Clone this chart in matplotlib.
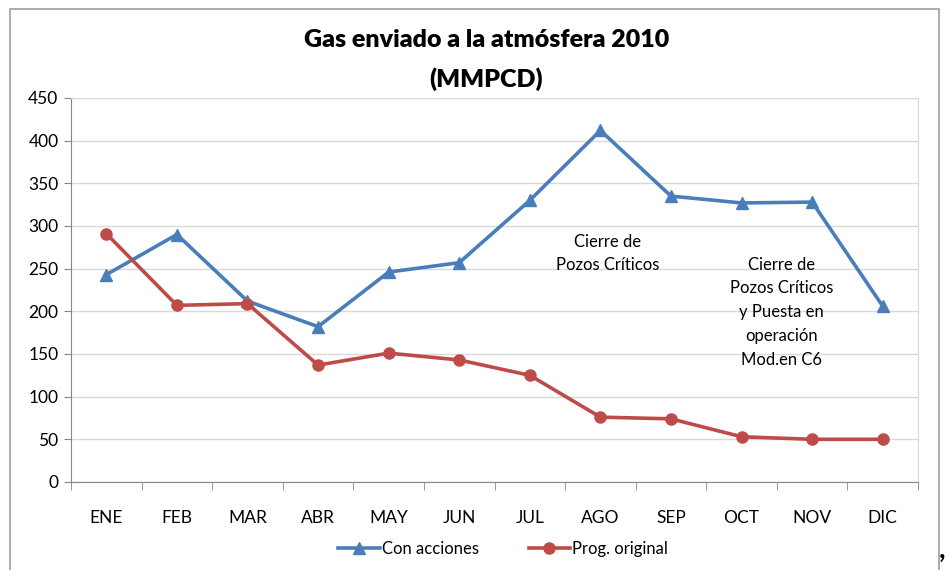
import matplotlib.pyplot as plt
import matplotlib.patches as mpatches

meses = ["ENE", "FEB", "MAR", "ABR", "MAY", "JUN", "JUL", "AGO", "SEP", "OCT", "NOV", "DIC"]
con_acciones = [243, 290, 212, 182, 246, 257, 330, 412, 335, 327, 328, 206]
prog_original = [291, 207, 209, 137, 151, 143, 125, 76, 74, 53, 50, 50]

plt.rcParams['font.family'] = ['Lato', 'DejaVu Sans']

fig = plt.figure(figsize=(9.52, 5.70), dpi=100)
ax = fig.add_axes([0.0746, 0.1544, 0.8897, 0.6737])

x = list(range(len(meses)))
azul = "#4A7EBB"
rojo = "#BE4B48"
ax.plot(x, con_acciones, color=azul, lw=2.6, marker="^", ms=8, label="Con acciones", zorder=3)
ax.plot(x, prog_original, color=rojo, lw=2.6, marker="o", ms=8, label="Prog. original", zorder=3)

ax.set_xlim(-0.5, 11.5)
ax.set_ylim(0, 450)
ax.set_yticks(range(0, 451, 50))
ax.set_xticks(x)
ax.set_xticklabels(meses)
ax.set_xticks([i - 0.5 for i in range(13)], minor=True)
ax.tick_params(axis="x", which="major", length=0, pad=20, labelsize=12.5)
ax.tick_params(axis="x", which="minor", length=6, color="#868686")
ax.tick_params(axis="y", length=5, color="#868686", labelsize=12.5, pad=4)
ax.grid(axis="y", color="#D9D9D9", lw=1)
ax.set_axisbelow(True)
for s in ["top", "right"]:
    ax.spines[s].set_color("#D9D9D9")
for s in ["left", "bottom"]:
    ax.spines[s].set_color("#868686")

ax.text(7.1, 268, "Cierre de\nPozos Críticos", ha="center", va="center", fontsize=12, linespacing=1.5)
ax.text(9.57, 199, "Cierre de\nPozos Críticos\ny Puesta en\noperación\nMod.en C6", ha="center", va="center",
        fontsize=12, linespacing=1.6)

fig.text(0.511, 0.93, "Gas enviado a la atmósfera 2010", ha="center", va="center", fontsize=18, fontweight="heavy")
fig.text(0.511, 0.862, "(MMPCD)", ha="center", va="center", fontsize=18, fontweight="heavy")

ax.legend(loc="center", bbox_to_anchor=(0.51, -0.175), ncol=2, frameon=False, fontsize=12,
          handlelength=2.5, columnspacing=3, handletextpad=0.1)

# marco exterior
fig.patches.append(mpatches.Rectangle((0.011, -0.1), 0.975, 1.085, transform=fig.transFigure,
                                      fill=False, edgecolor="#A0A0A0", lw=1.2))
fig.text(0.99, 0.035, ",", fontsize=20, fontweight="bold", ha="center", va="center")

fig.savefig("out.png", dpi=100)
